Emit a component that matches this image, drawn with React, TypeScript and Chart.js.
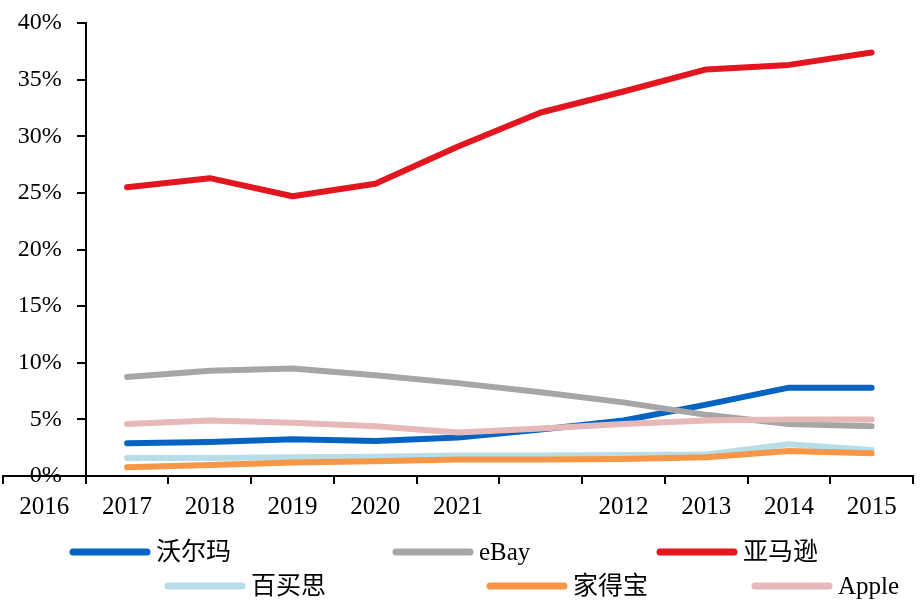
import React, { useEffect, useRef } from "react";
import { Chart, registerables } from "chart.js";

Chart.register(...registerables);

const categories = ["2016", "2017", "2018", "2019", "2020", "2021", "", "2012", "2013", "2014", "2015"];
const yTicks = [0, 5, 10, 15, 20, 25, 30, 35, 40];

const walmart = [null, 2.9, 3.0, 3.25, 3.1, 3.4, 4.1, 4.9, 6.3, 7.8, 7.8];
const ebay = [null, 8.75, 9.3, 9.5, 8.9, 8.2, 7.4, 6.5, 5.4, 4.6, 4.4];
const amazon = [null, 25.5, 26.3, 24.7, 25.8, 29.1, 32.1, 33.95, 35.9, 36.3, 37.4];
const bestbuy = [null, 1.6, 1.6, 1.65, 1.7, 1.8, 1.8, 1.85, 1.9, 2.8, 2.3];
const homedepot = [null, 0.77, 0.97, 1.2, 1.3, 1.45, 1.45, 1.5, 1.65, 2.2, 2.0];
const apple = [null, 4.6, 4.9, 4.7, 4.4, 3.85, 4.2, 4.6, 4.9, 5.0, 5.0];

const seriesNames = ["沃尔玛", "eBay", "亚马逊", "百买思", "家得宝", "Apple"];
const seriesColors = ["#0563C1", "#A6A6A6", "#E3151F", "#B7DEE8", "#F79646", "#E6B9B8"];
const seriesData = [walmart, ebay, amazon, bestbuy, homedepot, apple];

const FONT = '"Liberation Serif", "Times New Roman", "Noto Sans CJK SC", serif';

// legend layout (row start positions)
const legendRowsY = [552, 586];
const legendColsX = [
  [70, 393, 657],
  [165, 487, 752],
];

const Y_LABEL_SHIFT = 24;

const legendPlugin = {
  id: "customLegend",
  afterDraw(chart: any) {
    const ctx = chart.ctx;
    ctx.save();
    chart.data.datasets.forEach((ds: any, i: number) => {
      const row = Math.floor(i / 3);
      const col = i % 3;
      const x = legendColsX[row][col];
      const y = legendRowsY[row];
      ctx.beginPath();
      ctx.strokeStyle = ds.borderColor;
      ctx.lineWidth = 7;
      ctx.lineCap = "round";
      ctx.moveTo(x + 3, y);
      ctx.lineTo(x + 77, y);
      ctx.stroke();
      ctx.fillStyle = "#000";
      ctx.font = `25px ${FONT}`;
      ctx.textBaseline = "middle";
      ctx.textAlign = "left";
      ctx.fillText(ds.label, x + 86, y + 1);
    });
    ctx.restore();
  },
};

export default function App() {
  const ref = useRef<HTMLCanvasElement>(null);

  useEffect(() => {
    document.body.style.margin = "0";
    const chart = new Chart(ref.current!, {
      type: "line",
      data: {
        labels: categories,
        datasets: seriesNames.map((name, i) => ({
          label: name,
          data: seriesData[i],
          borderColor: seriesColors[i],
          backgroundColor: seriesColors[i],
          borderWidth: 6,
          borderCapStyle: "round",
          borderJoinStyle: "round",
          pointRadius: 0,
          tension: 0,
          fill: false,
          order: seriesNames.length - 1 - i,
        })) as any,
      },
      options: {
        animation: false,
        responsive: false,
        maintainAspectRatio: false,
        layout: { padding: { top: 23, left: 3, right: 8, bottom: 75 } },
        plugins: { legend: { display: false }, tooltip: { enabled: false } },
        scales: {
          x: {
            type: "category",
            offset: true,
            grid: {
              display: true,
              offset: true,
              drawOnChartArea: false,
              drawTicks: true,
              tickLength: 8,
              color: "#000",
              lineWidth: 2,
            },
            border: { display: true, color: "#000", width: 2 },
            ticks: {
              color: "#000",
              font: { family: FONT, size: 25 },
              padding: 8,
              maxRotation: 0,
              autoSkip: false,
            },
          },
          y: {
            position: { x: 0.5 } as any,
            min: 0,
            max: 40,
            afterBuildTicks(scale: any) {
              scale.ticks = yTicks.map((v) => ({ value: v }));
            },
            afterUpdate(scale: any) {
              const orig = Object.getPrototypeOf(scale)._computeLabelItems;
              scale._computeLabelItems = function (ca: any) {
                const items = orig.call(this, ca);
                items.forEach((it: any) => {
                  it.options.translation[0] -= Y_LABEL_SHIFT;
                });
                return items;
              };
            },
            grid: {
              display: true,
              drawOnChartArea: false,
              drawTicks: true,
              tickLength: 8,
              color: "#000",
              lineWidth: 2,
            },
            border: { display: true, color: "#000", width: 2 },
            ticks: {
              color: "#000",
              font: { family: FONT, size: 24 },
              padding: 6,
              callback: (v: any) => `${v}%`,
            },
          },
        },
      },
      plugins: [legendPlugin],
    });
    return () => chart.destroy();
  }, []);

  return (
    <div style={{ width: 921, height: 605 }}>
      <canvas ref={ref} width={921} height={605} style={{ width: 921, height: 605 }} />
    </div>
  );
}
